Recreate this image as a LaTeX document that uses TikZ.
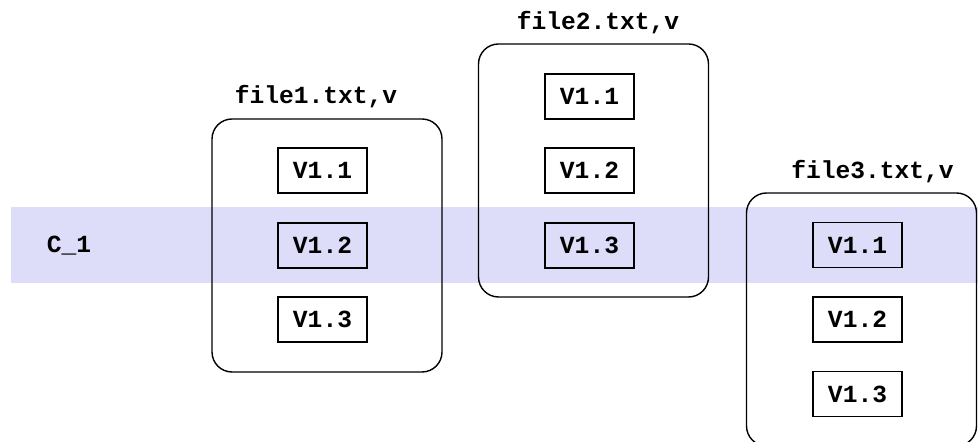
\documentclass[tikz,border=0pt]{standalone}
\usepackage{fontspec}
\setmonofont{Liberation Mono}
\definecolor{bandblue}{RGB}{221,221,249}
\begin{document}
\begin{tikzpicture}[x=0.5pt,y=-0.5pt,
  txt/.style={font=\ttfamily\bfseries\fontsize{12.3}{14}\selectfont, inner sep=0pt},
  filebox/.style={draw=black, line width=0.7pt, rounded corners=10pt, minimum width=115pt, minimum height=126.5pt, inner sep=0pt},
  verbox/.style={txt, draw=black, line width=0.7pt, minimum width=44.5pt, minimum height=22.5pt}]
\useasboundingbox (0,0) rectangle (978,442);
\begin{scope}
\clip (0,0) rectangle (978,442);
\fill[bandblue] (11,207) rectangle (978,283);
\node[filebox] (f1) at (327,245.5) {};
\node[filebox] (f2) at (593.5,170.5) {};
\node[filebox] (f3) at (861.5,319.5) {};
\end{scope}
\node[txt] (l1) at (316,97) {file1.txt,v};
\node[txt] (l2) at (598,23) {file2.txt,v};
\node[txt] (l3) at (872.5,172) {file3.txt,v};
\node[txt] (c1) at (69,246) {C\_1};
\node[verbox] (a1) at (322.5,170.5) {V1.1};
\node[verbox] (a2) at (322.5,245.5) {V1.2};
\node[verbox] (a3) at (322.5,319.5) {V1.3};
\node[verbox] (b1) at (589.5,96.5) {V1.1};
\node[verbox] (b2) at (589.5,170.5) {V1.2};
\node[verbox] (b3) at (589.5,245.5) {V1.3};
\node[verbox] (d1) at (857.5,245) {V1.1};
\node[verbox] (d2) at (857.5,319.5) {V1.2};
\node[verbox] (d3) at (857.5,394) {V1.3};
\end{tikzpicture}
\end{document}
